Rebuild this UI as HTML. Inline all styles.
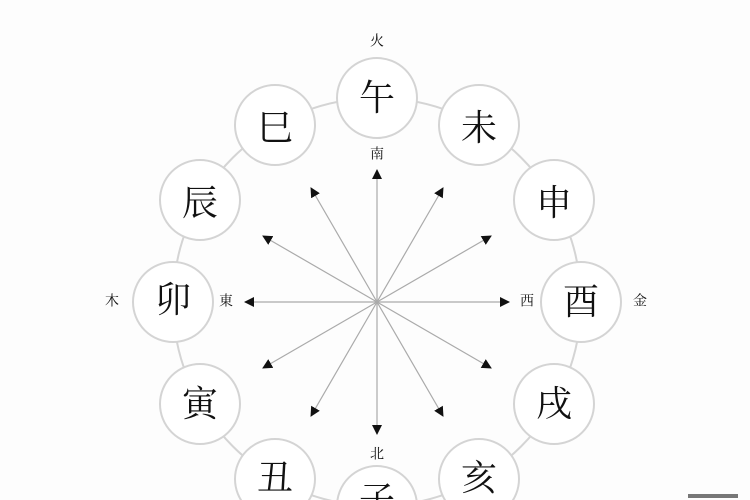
<!DOCTYPE html>
<html><head><meta charset="utf-8"><style>
html,body{margin:0;padding:0;background:#fdfdfd;width:750px;height:500px;overflow:hidden;}
svg{display:block}
text{font-family:"Liberation Serif","Noto Serif CJK SC","Noto Sans CJK SC",serif;fill:#111;text-anchor:middle;dominant-baseline:central}
.big{font-size:36px;font-weight:normal}
.sm{font-size:14px}
</style></head><body>
<svg width="750" height="500" viewBox="0 0 750 500" xmlns="http://www.w3.org/2000/svg" overflow="hidden">
<defs><marker id="a" viewBox="0 0 10 10" refX="9" refY="5" markerWidth="10" markerHeight="10" markerUnits="userSpaceOnUse" orient="auto"><path d="M0,0 L10,5 L0,10 z" fill="#111"/></marker></defs>
<rect width="750" height="500" fill="#fdfdfd"/>
<circle cx="377" cy="302" r="204" fill="none" stroke="#d4d4d4" stroke-width="2"/>
<g stroke="#aaa" stroke-width="1.2" marker-end="url(#a)">
<line x1="377" y1="302" x2="377" y2="170"/>
<line x1="377" y1="302" x2="443" y2="188"/>
<line x1="377" y1="302" x2="491" y2="236"/>
<line x1="377" y1="302" x2="509" y2="302"/>
<line x1="377" y1="302" x2="491" y2="368"/>
<line x1="377" y1="302" x2="443" y2="416"/>
<line x1="377" y1="302" x2="377" y2="434"/>
<line x1="377" y1="302" x2="311" y2="416"/>
<line x1="377" y1="302" x2="263" y2="368"/>
<line x1="377" y1="302" x2="245" y2="302"/>
<line x1="377" y1="302" x2="263" y2="236"/>
<line x1="377" y1="302" x2="311" y2="188"/>
</g>
<g fill="#fff" stroke="#d4d4d4" stroke-width="2">
<circle cx="377" cy="98" r="40"/><circle cx="479" cy="125" r="40"/><circle cx="554" cy="200" r="40"/>
<circle cx="581" cy="302" r="40"/><circle cx="554" cy="404" r="40"/><circle cx="479" cy="479" r="40"/>
<circle cx="377" cy="506" r="40"/><circle cx="275" cy="479" r="40"/><circle cx="200" cy="404" r="40"/>
<circle cx="173" cy="302" r="40"/><circle cx="200" cy="200" r="40"/><circle cx="275" cy="125" r="40"/>
</g>
<text x="377" y="98" class="big">午</text><text x="479" y="128" class="big">未</text><text x="554" y="203" class="big">申</text>
<text x="581" y="302" class="big">酉</text><text x="554" y="404" class="big">戌</text><text x="479" y="478" class="big">亥</text>
<text x="377" y="500" class="big">子</text><text x="275" y="478" class="big">丑</text><text x="200" y="404" class="big">寅</text>
<text x="173" y="300" class="big">卯</text><text x="200" y="203" class="big">辰</text><text x="275" y="128" class="big">巳</text>
<text x="377" y="42" class="sm">火</text>
<text x="377" y="155" class="sm">南</text>
<text x="377" y="455" class="sm">北</text>
<text x="527" y="302" class="sm">西</text>
<text x="226" y="302" class="sm">東</text>
<text x="112" y="302" class="sm">木</text>
<text x="640" y="302" class="sm">金</text>
<rect x="688" y="494" width="50" height="4" fill="#777"/>
</svg>
</body></html>
